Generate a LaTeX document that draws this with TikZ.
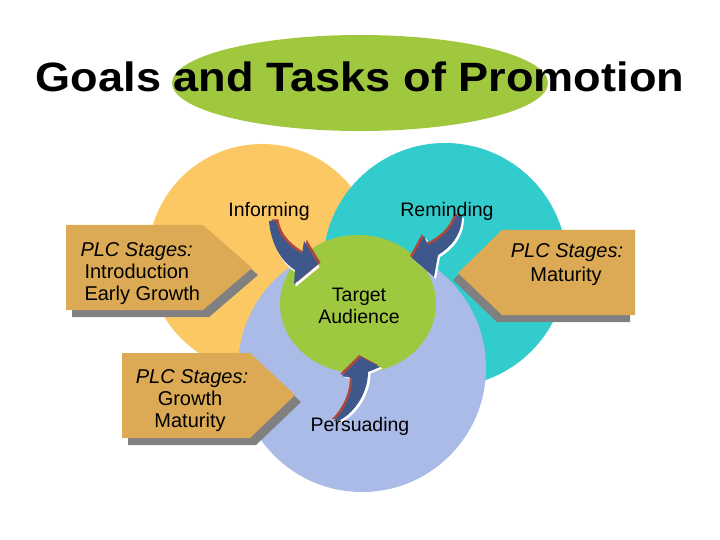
\documentclass[tikz,border=0pt]{standalone}
\usepackage{fontspec}
\setmainfont{Liberation Sans}
\usetikzlibrary{positioning}
\definecolor{titlegreen}{RGB}{160,200,62}
\definecolor{informc}{RGB}{252,200,100}
\definecolor{remindc}{RGB}{51,204,204}
\definecolor{persuadec}{RGB}{170,187,232}
\definecolor{targetc}{RGB}{158,200,64}
\definecolor{boxtan}{RGB}{220,170,85}
\definecolor{boxgray}{RGB}{128,128,128}
\definecolor{arrowblue}{RGB}{62,88,140}
\definecolor{arrowred}{RGB}{172,72,62}
\tikzset{
  lbl/.style={font=\fontsize{19.5}{22}\selectfont, anchor=base},
  boxlbl/.style={font=\fontsize{20}{22}\selectfont, anchor=base},
  stagebox/.style={fill=boxtan},
  stageshadow/.style={fill=boxgray},
}
\newcommand{\plc}{\textit{PLC Stages:}}
% curved block arrow: #1 outline, #2 red edge shift, #3 white edge shift
\newcommand{\blockarrow}[3]{%
  \fill[white,shift={#3}] #1;
  \fill[arrowred,shift={#2}] #1;
  \fill[arrowblue] #1;}
\begin{document}
\begin{tikzpicture}[x=1pt,y=-1pt]
  \useasboundingbox (0,0) rectangle (720,540);
  % title
  \fill[titlegreen] (360,83) ellipse (188 and 48);
  \node[anchor=base, font=\fontsize{41}{48}\selectfont\bfseries] (title) at (360,92)
    {\scalebox{1.1}[1]{Goals and Tasks of Promotion}};
  % goal circles
  \fill[informc] (262,258) circle (114);
  \fill[remindc] (445,265) circle (122);
  \fill[persuadec] (362,368) circle (124);
  \fill[targetc] (358,304) ellipse (78 and 69);
  % PLC stage boxes
  \fill[stageshadow,shift={(6,7)}] (66,225) -- (203,225) -- (252,268) -- (203,310) -- (66,310) -- cycle;
  \fill[stagebox] (66,225) -- (203,225) -- (252,268) -- (203,310) -- (66,310) -- cycle;
  \fill[stageshadow,shift={(-5,7)}] (635,230) -- (502,230) -- (458,273) -- (502,315) -- (635,315) -- cycle;
  \fill[stagebox] (635,230) -- (502,230) -- (458,273) -- (502,315) -- (635,315) -- cycle;
  \fill[stageshadow,shift={(6,7)}] (122,353) -- (250,353) -- (295,395) -- (250,438) -- (122,438) -- cycle;
  \fill[stagebox] (122,353) -- (250,353) -- (295,395) -- (250,438) -- (122,438) -- cycle;
  % arrows into the target
  \blockarrow{(269,221) .. controls (271,245) and (282,262) .. (295,270) -- (294,284) -- (318,264)
    -- (304,241) -- (302,254) .. controls (290,247) and (278,237) .. (276,221) -- cycle}{(2.5,-1.5)}{(1.5,3)}
  \blockarrow{(462,216) .. controls (462,235) and (450,248) .. (438,255) -- (434,277) -- (412,258)
    -- (424,236) -- (428,245) .. controls (440,240) and (452,230) .. (456,216) -- cycle}{(-2,-2)}{(2,2)}
  \blockarrow{(334,421) .. controls (345,410) and (352,395) .. (352,378) -- (342,376) -- (361,357)
    -- (380,367) -- (368,372) .. controls (368,395) and (352,415) .. (338,421) -- cycle}{(-2,-2)}{(2.5,1.5)}
  % labels
  \node[lbl] (inform) at (269,217) {Informing};
  \node[lbl] (remind) at (447,217) {Reminding};
  \node[lbl] (target) at (359,301) {Target};
  \node[lbl] (audience) at (359,323) {Audience};
  \node[lbl] (persuade) at (360,431) {Persuading};
  \node[boxlbl,anchor=base west] (plcone) at (77,256) {\plc};
  \node[boxlbl,anchor=base west] (intro) at (81,278) {Introduction};
  \node[boxlbl,anchor=base west] (early) at (81,300) {Early Growth};
  \node[boxlbl] (plctwo) at (567,258) {\plc};
  \node[boxlbl] (maturetwo) at (566,281) {Maturity};
  \node[boxlbl] (plcthree) at (192,383) {\plc};
  \node[boxlbl] (growth) at (190,405) {Growth};
  \node[boxlbl] (maturethree) at (190,427) {Maturity};
\end{tikzpicture}
\end{document}
